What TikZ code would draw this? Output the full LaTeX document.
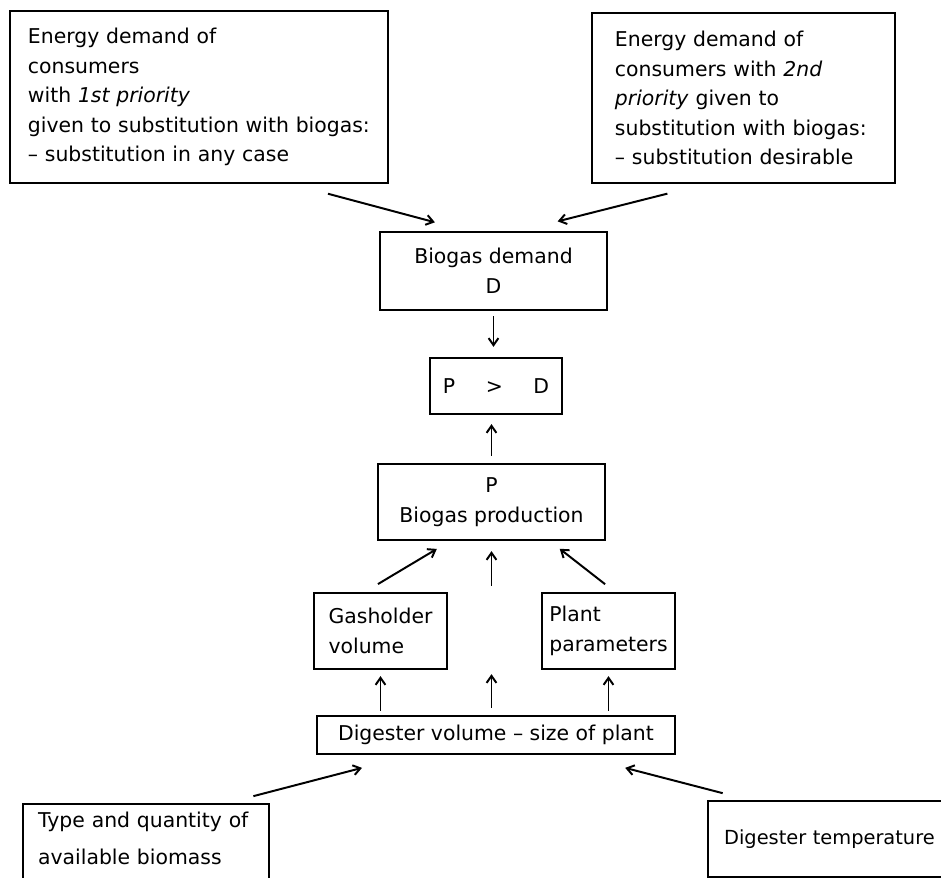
\documentclass[tikz,border=0pt]{standalone}
\usepackage{fontspec}
\setmainfont{DejaVu Sans}
\usetikzlibrary{arrows.meta}

\begin{document}
\begin{tikzpicture}[x=0.025cm,y=-0.025cm,
  every node/.style={font=\fontsize{14.5}{21}\selectfont},
  box/.style={draw,line width=1.6pt,align=left,inner sep=0pt},
  cbox/.style={draw,line width=1.6pt,align=center,inner sep=0pt},
  arrow/.style={-{Straight Barb[length=5pt,width=7pt]},line width=1.4pt}
]
  \useasboundingbox (0,0) rectangle (941,878);
  \clip (0,0) rectangle (941,878);
  \node[box,text width=8.55cm,inner xsep=0.45cm,minimum height=4.3cm] (first) at (199,97)
    {Energy demand of\\consumers\\with \textit{1st priority}\\given to substitution with biogas:\\-- substitution in any case};
  \node[box,text width=6.425cm,inner xsep=0.575cm,minimum height=4.25cm] (second) at (743.5,98)
    {Energy demand of\\consumers with \textit{2nd}\\\textit{priority} given to\\substitution with biogas:\\-- substitution desirable};
  \node[cbox,minimum width=5.675cm,minimum height=1.95cm] (demand) at (493.5,271) {Biogas demand\\D};
  \node[cbox,minimum width=3.3cm,minimum height=1.4cm] (cmp) at (496,386) {P\hspace{1.5em}>\hspace{1.5em}D};
  \node[cbox,minimum width=5.675cm,minimum height=1.9cm] (prod) at (491.5,502) {P\\Biogas production};
  \node[box,minimum width=3.325cm,minimum height=1.9cm] (gash) at (380.5,631) {Gasholder\\volume};
  \node[box,minimum width=3.325cm,minimum height=1.9cm] (plant) at (608.5,631) {Plant\\parameters};
  \node[cbox,minimum width=8.95cm,minimum height=0.95cm] (digv) at (496,735) {Digester volume -- size of plant};
  \node[box,anchor=north west,text width=5.4cm,inner xsep=0.375cm,inner ysep=0.2cm,text depth=2cm] (bmass) at (22,803)
    {Type and quantity of\\[5pt]available biomass};
  \node[box,anchor=north west,text width=7cm,inner xsep=0.4cm,minimum height=1.9cm,
        font=\fontsize{13.8}{21}\selectfont] (dtemp) at (707,800) {Digester temperature};

  \draw[arrow,shorten <=0.93cm,shorten >=0.83cm] ([xshift=2.325cm]first.south) -- ([xshift=-0.6625cm]demand.north);
  \draw[arrow,shorten <=0.97cm,shorten >=0.97cm] ([xshift=-0.9625cm]second.south) -- ([xshift=0.6625cm]demand.north);
  \draw[arrow,shorten <=0.125cm,shorten >=0.25cm] (demand.south) -- (demand.south |- cmp.north);
  \draw[arrow,shorten <=0.175cm,shorten >=0.225cm] (prod.north) -- (prod.north |- cmp.south);
  \draw[arrow,shorten <=0.38cm,shorten >=0.38cm] ([xshift=-0.39cm]gash.north) -- ([xshift=-1.04cm]prod.south);
  \draw[arrow,shorten <=0.31cm,shorten >=0.31cm] ([xshift=0.16cm]plant.north) -- ([xshift=1.46cm]prod.south);
  \draw[arrow,shorten <=3.225cm,shorten >=0.25cm] (prod.south |- digv.north) -- (prod.south);
  \draw[arrow,shorten <=0.175cm,shorten >=3.325cm] (prod.south |- digv.north) -- (prod.south);
  \draw[arrow,shorten <=0.1cm,shorten >=0.15cm] (gash.south |- digv.north) -- (gash.south);
  \draw[arrow,shorten <=0.1cm,shorten >=0.15cm] (plant.south |- digv.north) -- (plant.south);
  \draw[arrow,shorten <=0.68cm,shorten >=1.265cm] ([xshift=5.125cm]bmass.north west) -- ([xshift=-2.125cm]digv.south);
  \draw[arrow,shorten <=0.68cm,shorten >=1.27cm] ([xshift=1.05cm]dtemp.north west) -- ([xshift=2cm]digv.south);
\end{tikzpicture}
\end{document}
